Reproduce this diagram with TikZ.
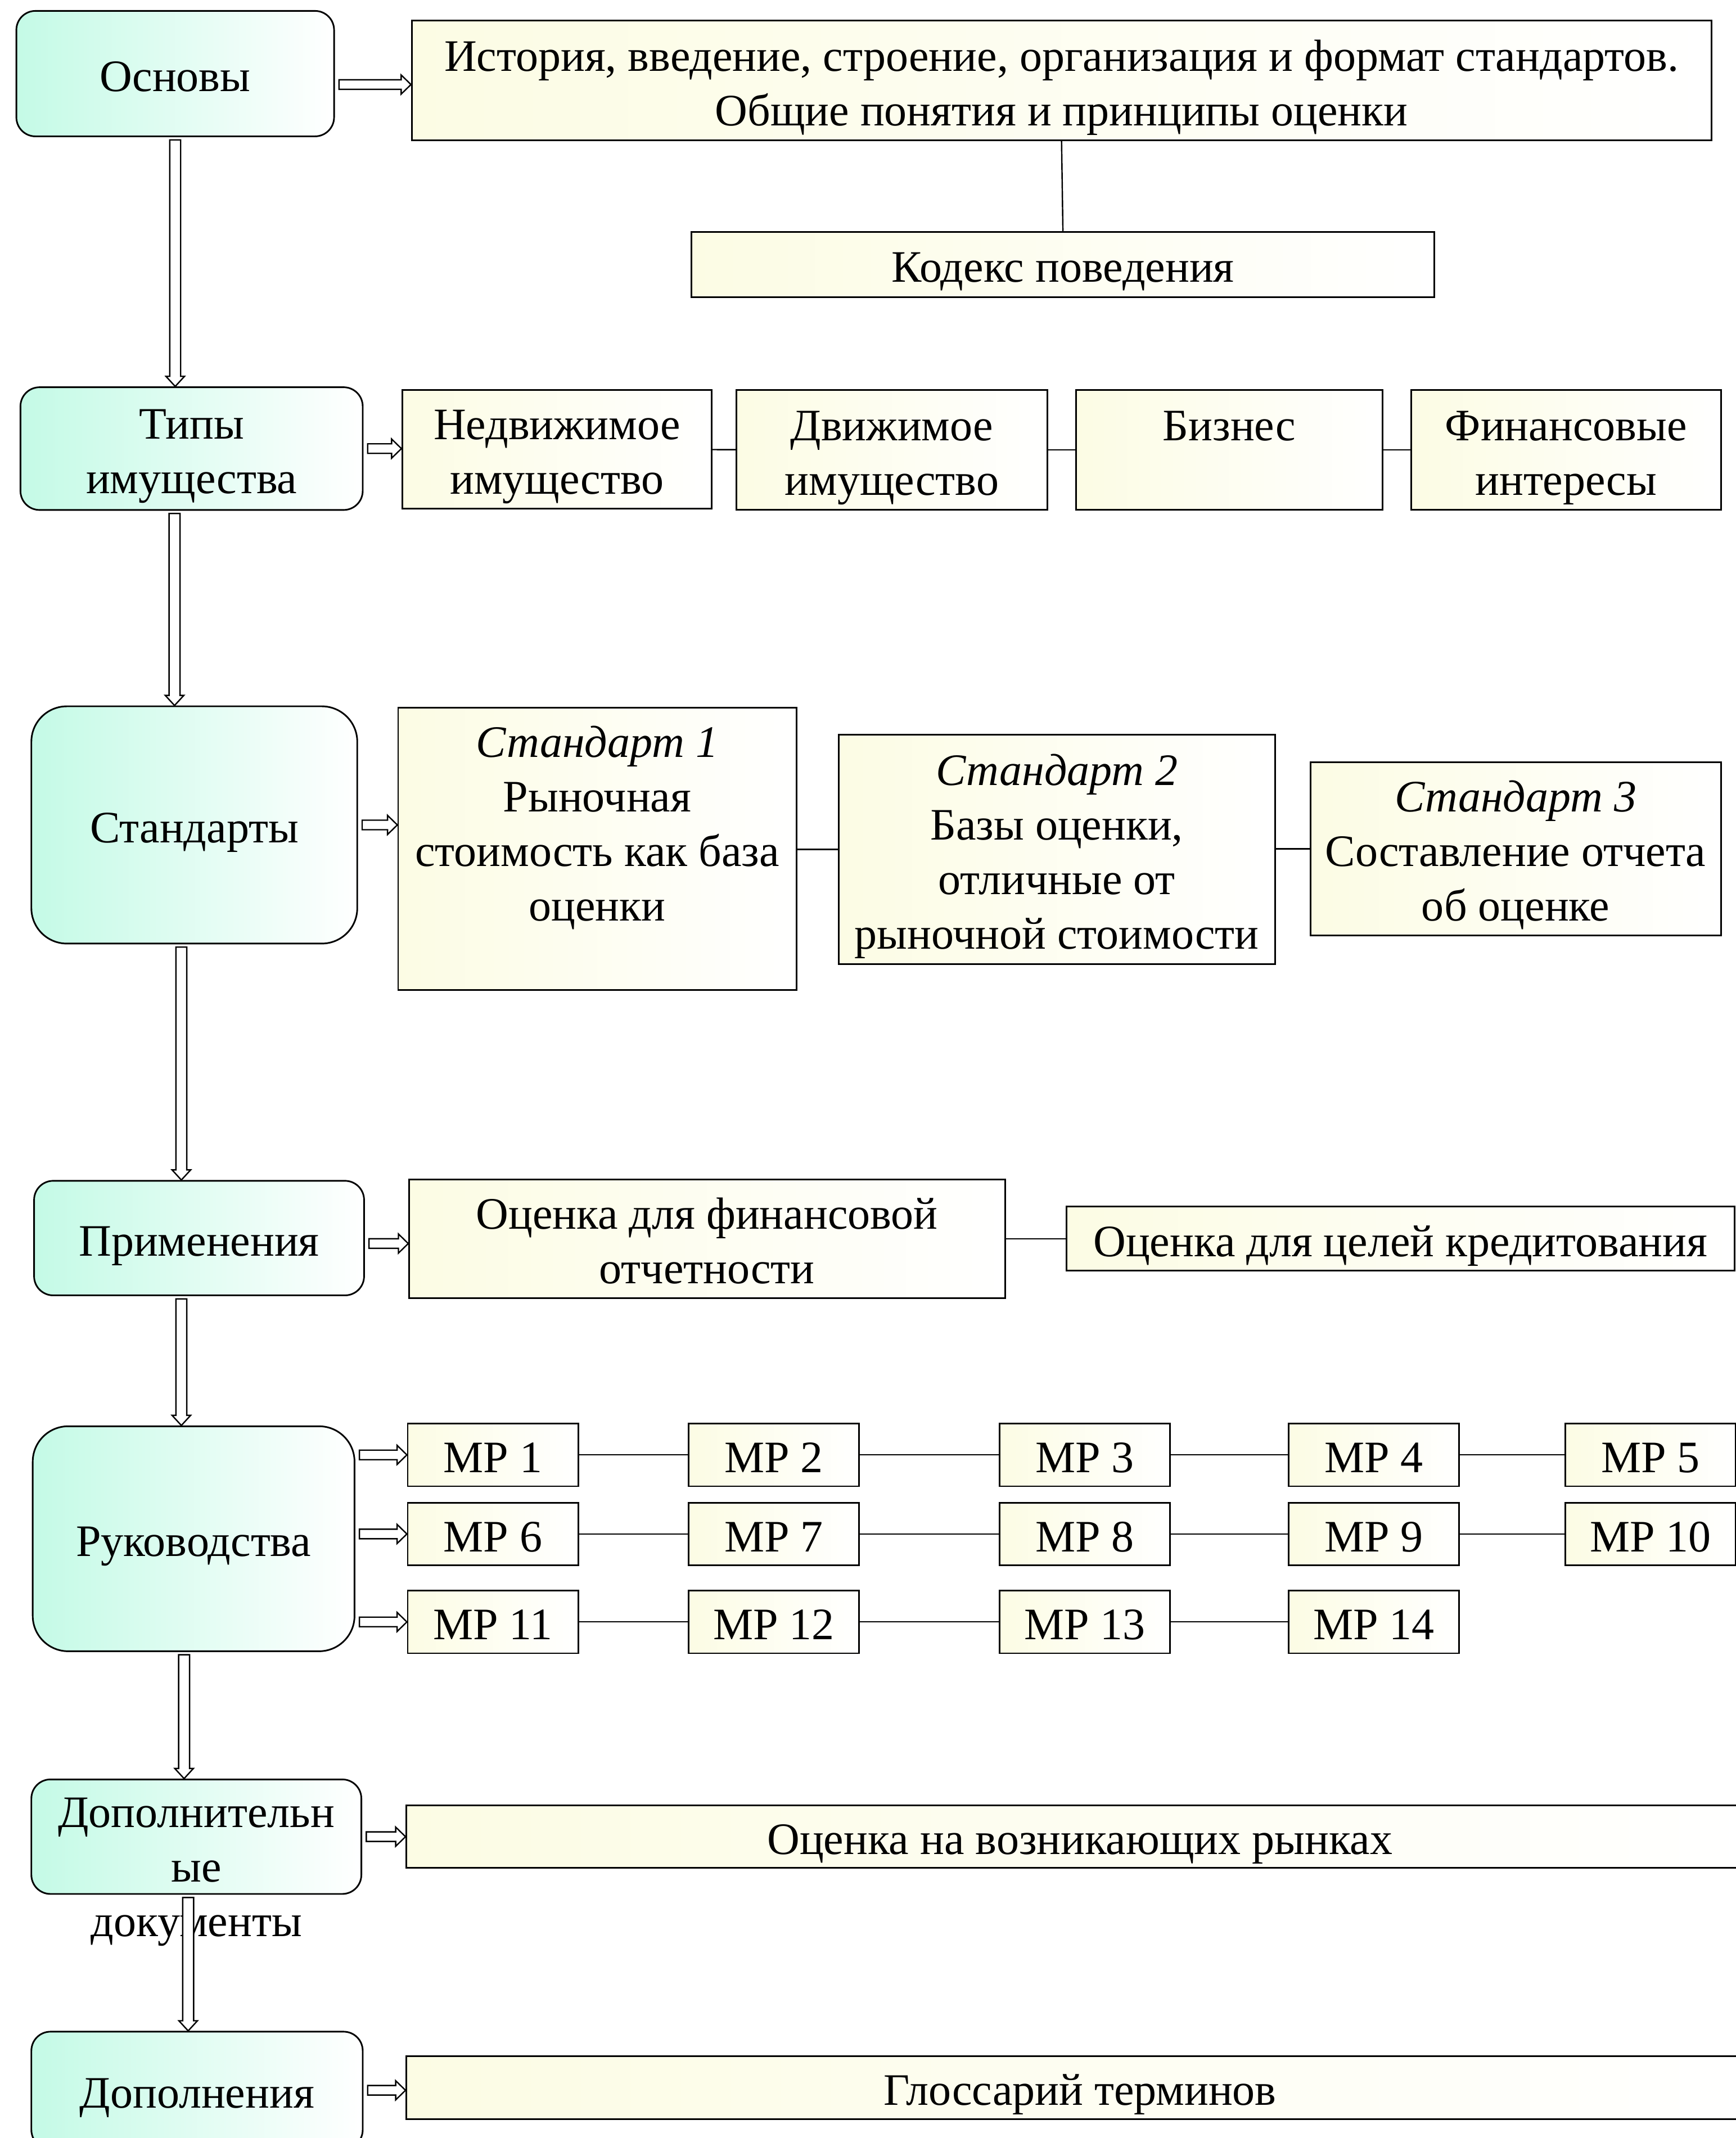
\documentclass[tikz,border=0pt]{standalone}
\usepackage{fontspec}
\setmainfont{Liberation Serif}
\usetikzlibrary{calc}

\definecolor{mintL}{RGB}{196,250,230}
\definecolor{mintM}{RGB}{166,214,198}
\definecolor{creamL}{RGB}{252,252,228}
\definecolor{creamM}{RGB}{212,212,188}
\definecolor{arrowblue}{RGB}{190,224,232}

\tikzset{
  boxsize/.style 2 args={minimum width=#1*0.5pt, minimum height=#2*0.5pt,
    text width=#1*0.5pt-6pt},
  secbox/.style={draw, line width=0.6pt, rounded corners=#1,
    left color=mintL, middle color=mintM, right color=white},
  secbox/.default=7pt,
  itembox/.style={draw, line width=0.6pt,
    left color=creamL, middle color=creamM, right color=white},
  conn/.style={draw, line width=0.5pt},
  harrow/.style={draw, line width=0.5pt,
    left color=white, middle color=arrowblue, right color=white,
    to path={let \p1=(\tikztostart), \p2=(\tikztotarget) in
      (\x1+1.5pt,\y1+1.75pt) -- (\x2-3.6pt,\y1+1.75pt) -- (\x2-3.6pt,\y1+3.5pt)
      -- (\x2,\y1) -- (\x2-3.6pt,\y1-3.5pt) -- (\x2-3.6pt,\y1-1.75pt)
      -- (\x1+1.5pt,\y1-1.75pt) -- cycle}},
  varrow/.style={draw, line width=0.5pt,
    top color=white, middle color=arrowblue, bottom color=white,
    to path={let \p1=(\tikztostart), \p2=(\tikztotarget) in
      (\x1-2pt,\y1-1pt) -- (\x1-2pt,\y2+3.7pt) -- (\x1-3.4pt,\y2+3.7pt)
      -- (\x1,\y2) -- (\x1+3.4pt,\y2+3.7pt) -- (\x1+2pt,\y2+3.7pt)
      -- (\x1+2pt,\y1-1pt) -- cycle}},
}

\begin{document}
\begin{tikzpicture}[x=0.5pt,y=-0.5pt,
  every node/.style={font=\fontsize{16.5}{20}\selectfont, align=flush center, inner sep=1pt,
    execute at begin node={\rule{0pt}{16.8pt}},
    execute at end node={\rule[-3.8pt]{0pt}{3.8pt}}}]

\useasboundingbox (0,0) rectangle (1273,1568);

% left column
\node[secbox, boxsize={233}{92}] (osn) at (128.5,54) {Основы};
\node[secbox, boxsize={251}{90}] (tipy) at (140.5,329) {Типы\\имущества};
\node[secbox=13pt, boxsize={239}{174}] (stand) at (142.5,605) {Стандарты};
\node[secbox, boxsize={242}{84}] (prim) at (146,908) {Применения};
\node[secbox=13pt, boxsize={236}{165}] (ruk) at (142,1128.5) {Руководства};
\node[secbox, boxsize={242}{84},
  label={[text width=115pt, yshift=-10pt]center:Дополнительн\\ые\\документы}] (dop) at (144,1347) {};
\node[secbox, boxsize={243}{86}] (dopl) at (144.5,1533) {Дополнения};

% right side
\node[itembox, boxsize={953}{88}] (hist) at (778.5,59)
  {История, введение, строение, организация и формат стандартов.\\Общие понятия и принципы оценки};
\node[itembox, boxsize={545}{48}] (kodex) at (779.5,194) {Кодекс поведения};

\node[itembox, boxsize={227}{87}] (ned) at (408.5,329.5) {Недвижимое\\имущество};
\node[itembox, boxsize={228}{88}] (dvi) at (654,330) {Движимое\\имущество};
\node[itembox, boxsize={225}{88}] (biz) at (901.5,330) {Бизнес\\\phantom{Б}};
\node[itembox, boxsize={227}{88}] (fin) at (1148.5,330) {Финансовые\\интересы};

\node[itembox, boxsize={292}{207}] (st1) at (438,622.5)
  {\textit{Стандарт 1}\\Рыночная\\стоимость как база\\оценки\\\phantom{о}};
\node[itembox, boxsize={320}{168}] (st2) at (775,623)
  {\textit{Стандарт 2}\\Базы оценки,\\отличные от\\рыночной стоимости};
\node[itembox, boxsize={301}{127}] (st3) at (1111.5,622.5)
  {\textit{Стандарт 3}\\Составление отчета\\об оценке};

\node[itembox, boxsize={437}{87}] (finot) at (518.5,908.5) {Оценка для финансовой\\отчетности};
\node[itembox, boxsize={490}{47}] (kred) at (1027,908.5) {Оценка для целей кредитования};

\foreach \r/\yy in {0/1067,1/1125,2/1189.5}
  \foreach \c/\xx in {1/361.5,2/567.5,3/795.5,4/1007.5,5/1210.5} {
    \pgfmathtruncatemacro\n{5*\r+\c}
    \ifnum\n<15
      \node[itembox, boxsize={125}{46}] (mp\n) at (\xx,\yy) {МР \n};
    \fi
  }

\node[itembox, boxsize={988}{46}] (rynki) at (792,1347) {Оценка на возникающих рынках};
\node[itembox, boxsize={988}{46}] (gloss) at (792,1531) {Глоссарий терминов};

% thin links
\draw[conn] (hist.south) -- (kodex.north);
\draw[conn] (ned) -- (dvi);
\draw[conn] (dvi) -- (biz);
\draw[conn] (biz) -- (fin);
\draw[conn] (st1.east |- st2.west) -- (st2.west);
\draw[conn] (st2.east |- st3.west) -- (st3.west);
\draw[conn] (finot.east |- kred.west) -- (kred.west);
\foreach \a/\b in {1/2,2/3,3/4,4/5,6/7,7/8,8/9,9/10,11/12,12/13,13/14}
  \draw[conn] (mp\a) -- (mp\b);

% block arrows
\draw[harrow] ([yshift=-1.5pt]osn.east |- hist.west) to (hist.west);
\draw[harrow] (tipy.east) to (ned.west);
\draw[harrow] (stand.east) to (st1.west);
\draw[harrow] ([yshift=-2pt]prim.east) to (finot.west);
\foreach \m in {1,6,11}
  \draw[harrow] (ruk.east |- mp\m.west) to (mp\m.west);
\draw[harrow] (dop.east) to (rynki.west);
\draw[harrow] (dopl.east) to (gloss.west);

\draw[varrow] (osn.south) to (tipy.north);
\draw[varrow] ([xshift=-6.25pt]tipy.south) to (stand.north);
\draw[varrow] ([xshift=-4.75pt]stand.south) to (prim.north);
\draw[varrow] ([xshift=-6.5pt]prim.south) to (ruk.north);
\draw[varrow] ([xshift=-3.5pt]ruk.south) to (dop.north);
\draw[varrow] ([xshift=-3pt]dop.south) to (dopl.north);

\end{tikzpicture}
\end{document}
